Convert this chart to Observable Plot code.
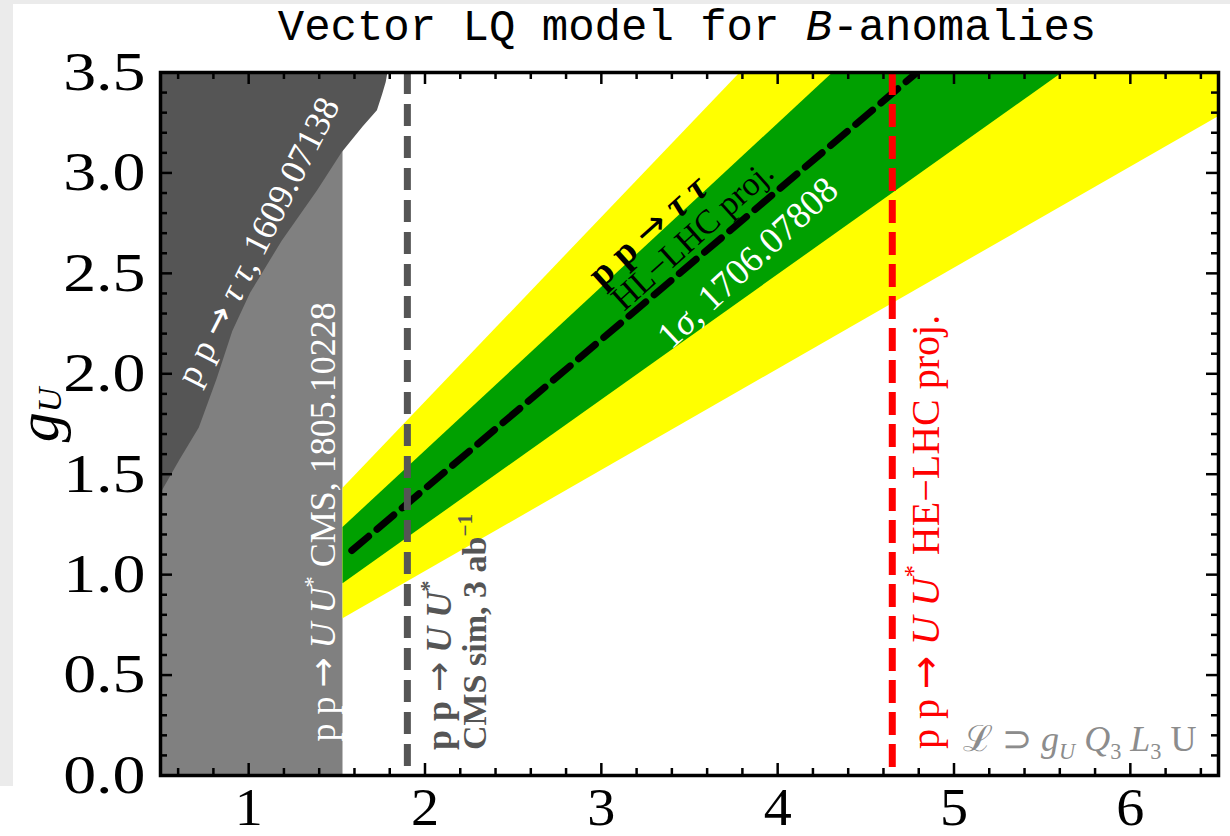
<!DOCTYPE html>
<html>
<head>
<meta charset="utf-8">
<script src="https://cdn.jsdelivr.net/npm/d3@7"></script>
<script src="https://cdn.jsdelivr.net/npm/@observablehq/plot@0.6"></script>
<style>
  html, body { margin: 0; padding: 0; background: #ffffff; }
  #wrap { position: relative; width: 1230px; height: 836px; overflow: hidden; }
  #edgeLeft { position: absolute; left: 0; top: 0; width: 13px; height: 786px; background: #ebebeb; }
  #edgeTop { position: absolute; left: 0; top: 0; width: 1230px; height: 4px; background: #ebebeb; }
  #chart { position: absolute; left: 0; top: 0; }
</style>
</head>
<body>
<div id="wrap"><div id="edgeLeft"></div><div id="edgeTop"></div><div id="chart"></div></div>
<script>
// Leptoquark mass M_U in TeV (x) against the coupling g_U (y)
const massDomain = [0.5, 6.5];
const couplingDomain = [0, 3.5];
const xTickValues = [1, 2, 3, 4, 5, 6];
const yTickValues = [0, 0.5, 1, 1.5, 2, 2.5, 3, 3.5];

// edge of the pp → ττ exclusion (1609.07138)
const tauMass     = [0.50, 0.61, 0.72, 0.82, 0.91, 1.01, 1.19, 1.39, 1.53, 1.65, 1.73, 1.76, 1.78, 1.79];
const tauCoupling = [1.40, 1.57, 1.73, 1.97, 2.21, 2.40, 2.66, 2.91, 3.10, 3.23, 3.31, 3.39, 3.45, 3.50];

// pair-production mass limits
const cmsPairLimit = 1.535;  // CMS, 1805.10228
const cmsSimLimit = 1.9;     // CMS sim, 3 ab^-1
const heLhcLimit = 4.65;     // HE-LHC projection

// preferred region for B-anomalies (1706.07808): 1σ (green) and 2σ (yellow)
const bandMass  = [1.535, 6.5];
const band2Low  = [0.78, 3.28];
const band2High = [1.43, 5.99];
const band1Low  = [0.955, 4.05];
const band1High = [1.235, 5.28];

// HL-LHC pp → ττ projection
const hlMass     = [1.585, 4.79];
const hlCoupling = [1.12, 3.50];

const W = 1230, H = 836, mL = 160, mR = 12, mT = 72, mB = 61;
const fw = W - mL - mR, fh = H - mT - mB;
const majorLen = 12, minorLen = 7;
const serif = "'Liberation Serif', 'Times New Roman', Times, serif";

const tauRows = tauMass.map((x, i) => ({x, y: tauCoupling[i]}));
const bandRows = bandMass.map((x, i) => ({
  x, lo2: band2Low[i], hi2: band2High[i], lo1: band1Low[i], hi1: band1High[i]
}));
const hlRows = hlMass.map((x, i) => ({x, y: hlCoupling[i]}));

const minorX = d3.range(3, 33).filter(i => i % 5 !== 0).map(i => i / 5);
const minorY = d3.range(1, 35).filter(i => i % 5 !== 0).map(i => i / 10);

const tickStyle = {stroke: "black", strokeWidth: 2.5};

const plot = Plot.plot({
  width: W, height: H,
  marginLeft: mL, marginRight: mR, marginTop: mT, marginBottom: mB,
  x: {domain: massDomain},
  y: {domain: couplingDomain},
  style: {background: "transparent", fontFamily: serif, fontSize: "50px", color: "black", overflow: "visible"},
  marks: [
    Plot.rect([cmsPairLimit], {x1: () => massDomain[0], x2: d => d, y1: () => couplingDomain[0], y2: () => couplingDomain[1], fill: "#808080"}),
    Plot.areaX(tauRows, {x1: () => massDomain[0], x2: "x", y: "y", fill: "#555555"}),
    Plot.areaY(bandRows, {x: "x", y1: "lo2", y2: "hi2", fill: "#ffff00", clip: true}),
    Plot.areaY(bandRows, {x: "x", y1: "lo1", y2: "hi1", fill: "#00a000", clip: true}),
    Plot.line(hlRows, {x: "x", y: "y", stroke: "black", strokeWidth: 7, strokeDasharray: "22,11", clip: true}),
    Plot.ruleX([cmsSimLimit], {x: d => d, stroke: "#555555", strokeWidth: 7, strokeDasharray: "22,10"}),
    Plot.ruleX([heLhcLimit], {x: d => d, stroke: "#ff0000", strokeWidth: 7, strokeDasharray: "23,9"}),
    // inward frame ticks on all four sides
    Plot.ruleX(xTickValues, {x: d => d, insetTop: fh - majorLen, ...tickStyle}),
    Plot.ruleX(xTickValues, {x: d => d, insetBottom: fh - majorLen, ...tickStyle}),
    Plot.ruleX(minorX, {x: d => d, insetTop: fh - minorLen, ...tickStyle}),
    Plot.ruleX(minorX, {x: d => d, insetBottom: fh - minorLen, ...tickStyle}),
    Plot.ruleY(yTickValues, {y: d => d, insetRight: fw - majorLen, ...tickStyle}),
    Plot.ruleY(yTickValues, {y: d => d, insetLeft: fw - majorLen, ...tickStyle}),
    Plot.ruleY(minorY, {y: d => d, insetRight: fw - minorLen, ...tickStyle}),
    Plot.ruleY(minorY, {y: d => d, insetLeft: fw - minorLen, ...tickStyle}),
    Plot.frame({stroke: "black", strokeWidth: 3.5}),
    Plot.axisX({ticks: xTickValues, tickSize: 0, tickPadding: 13, label: null, fontSize: 52, tickFormat: d3.format("d")}),
    Plot.axisY({ticks: yTickValues, tickSize: 0, tickPadding: 15, label: null, fontSize: 54, tickFormat: d3.format(".1f")})
  ]
});

document.getElementById("chart").appendChild(plot);

// widen the tick-label glyphs a little, keeping each label's anchor fixed
function widen(selector, k) {
  d3.select(plot).selectAll(selector).each(function () {
    const el = d3.select(this);
    const tr = el.attr("transform");
    if (tr) el.attr("transform", `${tr} scale(${k},1)`);
    else {
      const x = +el.attr("x") || 0, y = +el.attr("y") || 0;
      el.attr("x", null).attr("y", null).attr("transform", `translate(${x},${y}) scale(${k},1)`);
    }
  });
}
widen('g[aria-label="y-axis tick label"] text', 1.22);
widen('g[aria-label="x-axis tick label"] text', 1.08);

// Annotations with italics, sub- and superscripts, placed through the plot's scales
const sx = plot.scale("x"), sy = plot.scale("y");
const ann = d3.select(plot).append("g").attr("font-family", serif);
const ARROW = {t: "→", f: "'DejaVu Sans', sans-serif"};

function rich(parts, {x, y, px, py, angle = 0, anchor = "middle", size = 32, fill = "white",
                      weight = "normal", center = true, family = null}) {
  const X = px ?? sx.apply(x);
  const Y = py ?? sy.apply(y);
  const shift = center ? 0.35 * size : 0;
  const t = ann.append("text")
    .attr("transform", `translate(${X},${Y}) rotate(${angle}) translate(0,${shift})`)
    .attr("text-anchor", anchor)
    .attr("font-size", size)
    .attr("font-weight", weight)
    .attr("fill", fill)
    .style("white-space", "pre");
  if (family) t.attr("font-family", family);
  let offset = 0;
  for (const p of parts) {
    const part = typeof p === "string" ? {t: p} : p;
    const s = part.size ?? (part.sup || part.sub ? size * 0.62 : size);
    const target = part.shift ?? (part.sup ? -0.42 * size : part.sub ? 0.22 * size : 0);
    const ts = t.append("tspan").text(part.t).attr("font-size", s);
    if (part.i) ts.attr("font-style", "italic");
    if (part.f) ts.attr("font-family", part.f).attr("font-weight", "normal");
    if (target !== offset) { ts.attr("dy", target - offset); offset = target; }
  }
}

// pp → ττ exclusion
rich(["p p ", ARROW, " ", {t: "τ τ", i: true}, ", 1609.07138"], {x: 1.052, y: 2.66, angle: -63, size: 36});
// CMS pair production
rich(["p p ", ARROW, " ", {t: "U", i: true}, " ", {t: "U", i: true}, {t: "*", sup: true}, " CMS, 1805.10228"],
     {x: 1.419, y: 1.26, angle: -90, size: 36});
// CMS simulation at 3 ab^-1
rich(["p p ", ARROW, " ", {t: "U", i: true}, " ", {t: "U", i: true}, {t: "*", sup: true}],
     {x: 2.077, y: 0.124, angle: -90, anchor: "start", size: 36, weight: "bold", fill: "#555555"});
rich(["CMS sim, 3 ab", {t: "−1", sup: true}],
     {x: 2.281, y: 0.124, angle: -90, anchor: "start", size: 34, weight: "bold", fill: "#555555"});
// HL-LHC ττ projection and the 1σ band
rich(["p p ", ARROW, " ", {t: "τ τ", i: true}], {x: 3.262, y: 2.713, angle: -42, size: 38, weight: "bold", fill: "black"});
rich(["HL−LHC proj."], {x: 3.517, y: 2.689, angle: -42, size: 34, fill: "black"});
rich(["1", {t: "σ", i: true}, ", 1706.07808"], {x: 3.829, y: 2.554, angle: -43, size: 37});
// HE-LHC projection
rich(["p p ", ARROW, " ", {t: "U", i: true}, " ", {t: "U", i: true}, {t: "*", sup: true}, " HE−LHC proj."],
     {x: 4.838, y: 0.13, angle: -90, anchor: "start", size: 40, fill: "#ff0000"});
// interaction term
rich(["ℒ ⊃ ", {t: "g", i: true}, {t: "U", i: true, sub: true}, " ", {t: "Q", i: true}, {t: "3", sub: true},
      " ", {t: "L", i: true}, {t: "3", sub: true}, " U"],
     {x: 6.378, y: 0.12, anchor: "end", size: 36, fill: "#8c8c8c", center: false});
// y-axis title
rich([{t: "g", i: true}, {t: "U", i: true, size: 34, shift: 3}],
     {px: 58, py: 415, angle: -90, size: 60, fill: "black", center: false});
// chart title
rich(["Vector LQ model for ", {t: "B", i: true}, "-anomalies"],
     {px: 687, py: 40, size: 44, fill: "black", center: false, family: "'Liberation Mono', 'Courier New', monospace"});
</script>
</body>
</html>
